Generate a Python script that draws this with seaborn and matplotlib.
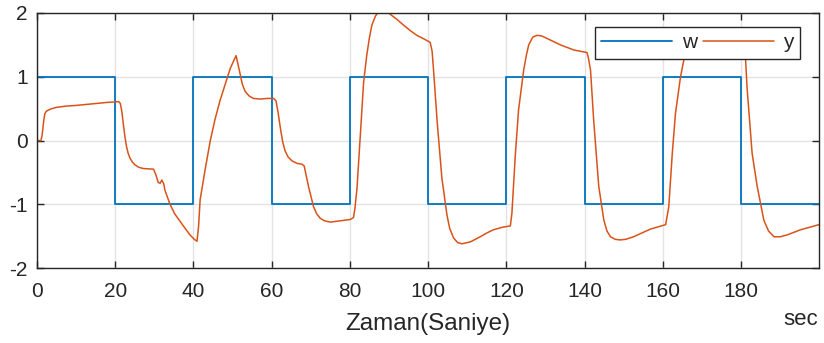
import matplotlib
matplotlib.use("Agg")
import matplotlib.pyplot as plt
import seaborn as sns

# Reference signal w: square wave, value held from each switching instant
w_t = [0, 20, 40, 60, 80, 100, 120, 140, 160, 180, 199.9]
w_v = [1, -1, 1, -1, 1, -1, 1, -1, 1, -1, -1]

# Plant output y (time in seconds, value)
y_t = [0, 1.0, 1.3, 1.7, 2.0, 2.4, 3.0, 3.8, 5, 7.5, 10, 12.5, 15, 17.5, 20,
       20.9, 21.3, 21.7, 22.1, 22.5, 22.9, 23.3, 23.8, 24.4, 25.0, 26, 27.2,
       29.8, 30.4, 31.0, 31.5, 31.9, 32.4, 32.7, 34, 35.2, 36.6, 38, 39.1,
       40.2, 40.9, 41.3, 41.7, 43, 44.3, 45.5, 46.8, 48.2, 49.4, 50.5, 50.9,
       51.3, 51.9, 52.5, 53.2, 54.2, 55.3, 57, 59, 60.5, 61.1, 61.6, 62.2,
       62.8, 63.4, 64.2, 65.2, 66.5, 67.7, 68.3, 69.4, 70.7, 71.5, 72.4,
       73.5, 75, 77.5, 80, 80.9, 81.3, 81.8, 82.6, 83.5, 84.3, 85.0, 85.6,
       86.5, 87.5, 88.5, 89.5, 90.3, 92, 93.7, 95.5, 97.1, 99, 100.5, 101.0,
       101.4, 102.3, 103.5, 104.8, 105.5, 106.5, 107.5, 108.6, 110.8, 113.3,
       115, 116.7, 119, 121, 121.4, 122.3, 123.1, 124.4, 125.1, 125.7, 126.7,
       127.8, 129, 130.4, 133.8, 137.2, 140.6, 141.0, 141.5, 142.3, 143.6,
       144.9, 145.7, 146.6, 147.8, 149.1, 150.5, 152.5, 156.8, 160.7, 161.5,
       162.4, 163.2, 164.5, 165.5, 166.5, 167.8, 169, 170.5, 174, 177.5,
       180.6, 181.1, 181.5, 182.8, 184.1, 185.8, 187, 188.4, 190, 191.8,
       195.2, 199.9]
y_v = [0.0, 0.0, 0.08, 0.30, 0.42, 0.46, 0.48, 0.50, 0.52, 0.54, 0.55, 0.565,
       0.58, 0.595, 0.605, 0.61, 0.58, 0.45, 0.24, 0.05, -0.10, -0.20,
       -0.28, -0.34, -0.38, -0.42, -0.44, -0.45, -0.54, -0.66, -0.67, -0.62,
       -0.68, -0.78, -1.0, -1.15, -1.27, -1.39, -1.48, -1.55, -1.58, -1.35,
       -0.93, -0.45, 0.0, 0.33, 0.63, 0.90, 1.13, 1.28, 1.33, 1.22, 1.05,
       0.88, 0.77, 0.70, 0.66, 0.65, 0.66, 0.66, 0.62, 0.45, 0.20, -0.02,
       -0.16, -0.26, -0.32, -0.36, -0.37, -0.40, -0.72, -1.04, -1.15, -1.22,
       -1.26, -1.28, -1.26, -1.24, -1.21, -1.05, -0.75, 0.03, 0.92, 1.34,
       1.62, 1.81, 1.95, 2.04, 2.06, 2.03, 1.98, 1.90, 1.81, 1.72, 1.65,
       1.59, 1.54, 1.40, 1.08, 0.29, -0.59, -1.17, -1.38, -1.53, -1.60,
       -1.62, -1.59, -1.51, -1.45, -1.40, -1.36, -1.34, -1.14, -0.20, 0.48,
       1.10, 1.34, 1.50, 1.62, 1.65, 1.64, 1.60, 1.50, 1.42, 1.38, 1.28,
       1.10, 0.32, -0.72, -1.25, -1.42, -1.51, -1.55, -1.56, -1.55, -1.51,
       -1.39, -1.32, -1.04, -0.20, 0.42, 1.00, 1.31, 1.52, 1.63, 1.64, 1.60,
       1.50, 1.42, 1.38, 1.31, 0.84, -0.20, -0.72, -1.25, -1.42, -1.51,
       -1.51, -1.48, -1.40, -1.32]

x_ticks = [0, 20, 40, 60, 80, 100, 120, 140, 160, 180]
y_ticks = [-2, -1, 0, 1, 2]

sns.set_theme(style="white")
plt.rcParams["font.family"] = ["Liberation Sans", "DejaVu Sans"]

dark = "#262626"
fig = plt.figure(figsize=(8.24, 3.43), dpi=100)
ax = fig.add_axes([37 / 824, 1 - 268 / 343, (819 - 37) / 824, (268 - 13) / 343])

sns.lineplot(x=w_t, y=w_v, ax=ax, color="#0072BD", linewidth=1.3,
             drawstyle="steps-post", estimator=None, sort=False, label="w")
sns.lineplot(x=y_t, y=y_v, ax=ax, color="#D95319", linewidth=1.1,
             estimator=None, sort=False, label="y")

ax.set_xlim(0, 199.9)
ax.set_ylim(-2, 2)
ax.set_xticks(x_ticks)
ax.set_yticks(y_ticks)
ax.set_xticklabels([str(v) for v in x_ticks])
ax.set_yticklabels([str(v) for v in y_ticks])

ax.grid(True, color="#e3e3e3", linewidth=1.0)
ax.set_axisbelow(True)
for s in ax.spines.values():
    s.set_color(dark)
    s.set_linewidth(1.0)
    s.set_visible(True)
ax.tick_params(axis="both", which="both", direction="in", length=5,
               width=1.0, color=dark, labelcolor=dark, labelsize=15,
               top=True, right=True, bottom=True, left=True)
ax.tick_params(axis="x", pad=10)
ax.tick_params(axis="y", pad=6.5)

ax.set_xlabel("Zaman(Saniye)", fontsize=17.5, color=dark)
ax.xaxis.label.set_va("baseline")
ax.xaxis.set_label_coords(0.5, (268 - 330) / 255)
ax.set_ylabel("")
fig.text(818 / 824, 1 - 325 / 343, "sec", ha="right", va="baseline",
         fontsize=16, color=dark)

leg = ax.legend(loc="upper right", bbox_to_anchor=((800 - 37) / 782, (268 - 27) / 255),
                borderaxespad=0, ncol=2, fontsize=15, frameon=True, fancybox=False,
                handlelength=3.4, handletextpad=0.45, columnspacing=0.3,
                borderpad=0.3)
leg.get_frame().set_edgecolor(dark)
leg.get_frame().set_linewidth(1.0)
leg.get_frame().set_facecolor("white")
leg.get_frame().set_alpha(1.0)
for t in leg.get_texts():
    t.set_color(dark)

fig.savefig("out.png", dpi=100)
